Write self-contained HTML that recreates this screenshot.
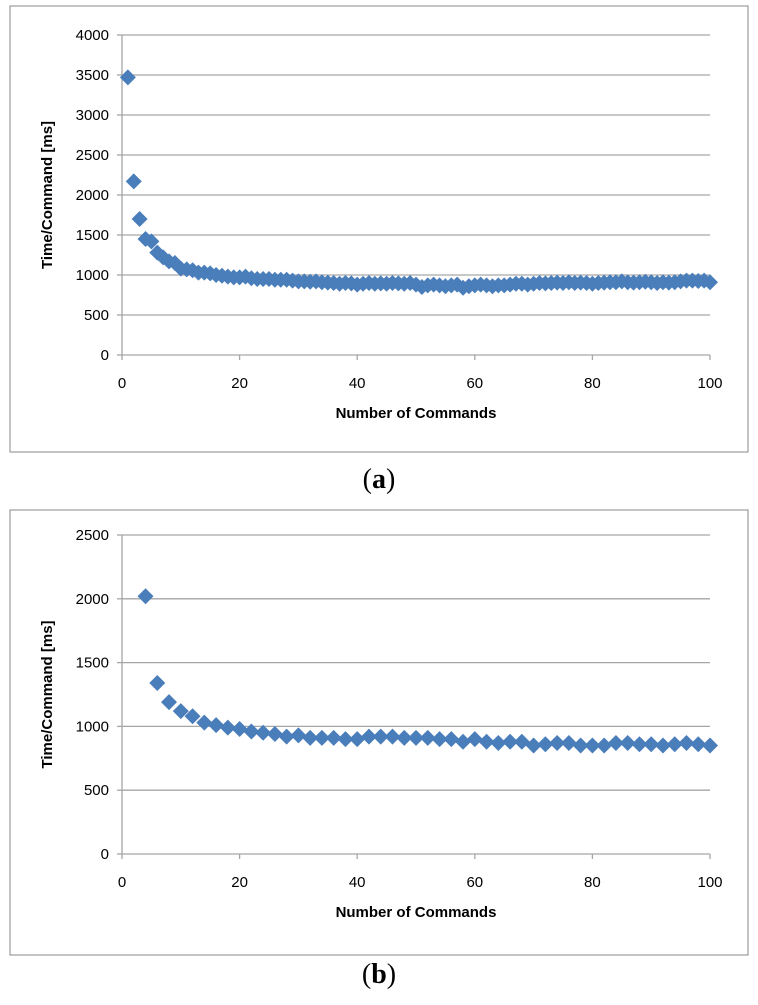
<!DOCTYPE html>
<html><head><meta charset="utf-8"><style>
body{margin:0;background:#fff;}
svg text{font-family:"Liberation Sans",sans-serif;}
</style></head><body>
<svg id="root" width="758" height="1000" xmlns="http://www.w3.org/2000/svg"></svg>
<script>
const xTicksA=[0,20,40,60,80,100];
const yTicksA=[0,500,1000,1500,2000,2500,3000,3500,4000];
const valuesA=[3470,2170,1700,1450,1420,1280,1220,1170,1150,1080,1070,1060,1030,1030,1020,1000,990,980,970,970,980,960,950,950,950,940,940,940,930,920,920,915,920,910,905,900,890,900,895,880,890,900,890,895,890,900,895,890,900,880,850,870,880,870,860,870,880,840,860,870,880,870,860,870,870,880,890,890,880,890,900,895,900,905,900,910,900,905,900,890,900,905,910,910,920,910,905,910,915,910,900,910,905,910,920,930,930,925,930,910];
const xTicksB=[0,20,40,60,80,100];
const yTicksB=[0,500,1000,1500,2000,2500];
const xValuesB=[4,6,8,10,12,14,16,18,20,22,24,26,28,30,32,34,36,38,40,42,44,46,48,50,52,54,56,58,60,62,64,66,68,70,72,74,76,78,80,82,84,86,88,90,92,94,96,98,100];
const valuesB=[2020,1340,1190,1120,1080,1030,1010,990,980,960,950,940,920,930,910,910,910,900,900,920,920,920,910,910,910,900,900,880,900,880,870,880,880,850,860,870,870,850,850,850,870,870,860,860,850,860,870,860,850];

const NS='http://www.w3.org/2000/svg';
const root=document.getElementById('root');
function mk(tag,attrs,parent,text){const e=document.createElementNS(NS,tag);for(const k in attrs)e.setAttribute(k,attrs[k]);if(text!==undefined)e.textContent=text;(parent||root).appendChild(e);return e;}

function chart(cfg){
  const g=mk('g',{});
  
  
  const fr=mk('rect',{x:cfg.fx,y:cfg.fy,width:738,height:cfg.fh,fill:'#fff',stroke:'#888','stroke-width':1},g);
  
  
  const L=122,R=710,T=cfg.top,B=cfg.bottom,ymax=cfg.ymax;
  const sx=v=>L+(v-0)/100*(R-L);
  const sy=v=>B-v/ymax*(B-T);
  cfg.yTicks.forEach(t=>{
    if(t>0){const gl=mk('line',{x1:L,x2:R,y1:sy(t),y2:sy(t),stroke:'#a6a6a6','stroke-width':1.3},g);
    
    }
    mk('line',{x1:L-5,x2:L,y1:sy(t),y2:sy(t),stroke:'#a6a6a6','stroke-width':1.3},g);
    const tl=mk('text',{x:L-13,y:sy(t)+5,'text-anchor':'end','font-size':15,fill:'#000'},g,t);
    
    
  });
  const ax=mk('line',{x1:L,x2:L,y1:T,y2:B,stroke:'#a6a6a6','stroke-width':1.3},g);
  
  
  const xa=mk('line',{x1:L,x2:R,y1:B,y2:B,stroke:'#a6a6a6','stroke-width':1.3},g);
  
  
  cfg.xTicks.forEach(t=>{
    mk('line',{x1:sx(t),x2:sx(t),y1:B,y2:B+5,stroke:'#a6a6a6','stroke-width':1.3},g);
    const tl=mk('text',{x:sx(t),y:B+33,'text-anchor':'middle','font-size':15,fill:'#000'},g,t);
    
    
  });
  const xt=mk('text',{x:416,y:B+63,'text-anchor':'middle','font-size':15,'font-weight':'bold'},g,'Number of Commands');
  
  
  const cy=(T+B)/2;
  const yt=mk('text',{x:52,y:cy,'text-anchor':'middle','font-size':15,'font-weight':'bold',transform:'rotate(-90 52 '+cy+')'},g,'Time/Command [ms]');
  
  
  cfg.xs.forEach((xv,i)=>{
    const x=sx(xv),y=sy(cfg.ys[i]),h=8;
    const p=mk('polygon',{points:`${x},${y-h} ${x+h},${y} ${x},${y+h} ${x-h},${y}`,fill:'#4a7ebb'},g);
    
    
  });
  const cap=mk('text',{x:379,y:cfg.capY,'text-anchor':'middle','font-size':28,style:'font-family:"Liberation Serif",serif'},g);
  
  
  mk('tspan',{},cap,'(');mk('tspan',{'font-weight':'bold'},cap,cfg.letter);mk('tspan',{},cap,')');
}
chart({name:'chart-a',fx:10,fy:6,fh:446,top:35,bottom:355,ymax:4000,yTicks:yTicksA,xTicks:xTicksA,xs:valuesA.map((v,i)=>i+1),ys:valuesA,capY:488,letter:'a'});
chart({name:'chart-b',fx:10,fy:510,fh:445,top:535,bottom:854,ymax:2500,yTicks:yTicksB,xTicks:xTicksB,xs:xValuesB,ys:valuesB,capY:983,letter:'b'});
</script>
</body></html>
